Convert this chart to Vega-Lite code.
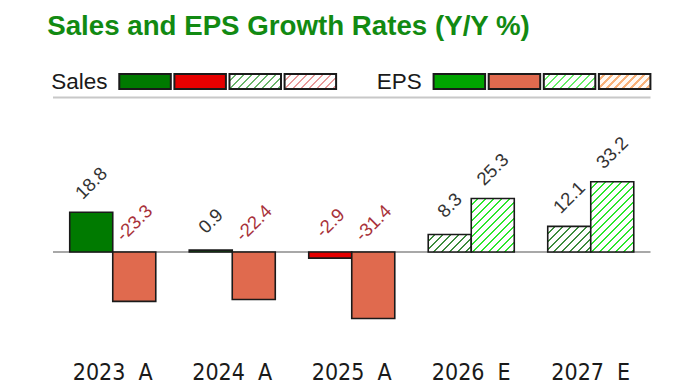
{
  "$schema": "https://vega.github.io/schema/vega-lite/v6.json",
  "padding": {"left": 47, "top": 12, "right": 0, "bottom": 0},
  "background": "white",
  "title": {"text": "Sales and EPS Growth Rates (Y/Y %)", "anchor": "start", "dx": -4, "font": "Liberation Sans", "fontSize": 27.7, "fontWeight": "bold", "color": "#128a12", "offset": 30},
  "config": {"view": {"stroke": null}},
  "resolve": {"scale": {"xOffset": "independent", "x": "independent", "y": "independent"}},
  "bounds": "flush",
  "spacing": 8.5,
  "vconcat": [
    {
      "width": 628.6,
      "height": 15,
      "data": {"values": [
        {"series": "Sales", "kind": "pos"}, {"series": "Sales", "kind": "neg"}, {"series": "Sales", "kind": "estpos"}, {"series": "Sales", "kind": "estneg"},
        {"series": "EPS", "kind": "pos"}, {"series": "EPS", "kind": "neg"}, {"series": "EPS", "kind": "estpos"}, {"series": "EPS", "kind": "estneg"}
      ]},
      "layer": [
        {
          "transform": [{"filter": "datum.series == 'EPS' && datum.kind == 'estneg'"}],
          "mark": {"type": "bar", "stroke": "#1a1a1a", "strokeWidth": 2, "fill": {"gradient": "linear", "x1": 0, "y1": 0, "x2": 1.19, "y2": 0.3466, "stops": [
            {"offset": 0, "color": "#fffaf5"},
            {"offset": 0.075, "color": "#fffaf5"}, {"offset": 0.075, "color": "#f9b27a"}, {"offset": 0.1203, "color": "#f9b27a"}, {"offset": 0.1203, "color": "#fffaf5"},
            {"offset": 0.195, "color": "#fffaf5"}, {"offset": 0.195, "color": "#f9b27a"}, {"offset": 0.2405, "color": "#f9b27a"}, {"offset": 0.2405, "color": "#fffaf5"},
            {"offset": 0.315, "color": "#fffaf5"}, {"offset": 0.315, "color": "#f9b27a"}, {"offset": 0.3608, "color": "#f9b27a"}, {"offset": 0.3608, "color": "#fffaf5"},
            {"offset": 0.436, "color": "#fffaf5"}, {"offset": 0.436, "color": "#f9b27a"}, {"offset": 0.4811, "color": "#f9b27a"}, {"offset": 0.4811, "color": "#fffaf5"},
            {"offset": 0.556, "color": "#fffaf5"}, {"offset": 0.556, "color": "#f9b27a"}, {"offset": 0.6013, "color": "#f9b27a"}, {"offset": 0.6013, "color": "#fffaf5"},
            {"offset": 0.676, "color": "#fffaf5"}, {"offset": 0.676, "color": "#f9b27a"}, {"offset": 0.7216, "color": "#f9b27a"}, {"offset": 0.7216, "color": "#fffaf5"},
            {"offset": 0.796, "color": "#fffaf5"}, {"offset": 0.796, "color": "#f9b27a"}, {"offset": 0.8418, "color": "#f9b27a"}, {"offset": 0.8418, "color": "#fffaf5"},
            {"offset": 0.917, "color": "#fffaf5"}, {"offset": 0.917, "color": "#f9b27a"}, {"offset": 0.9621, "color": "#f9b27a"}, {"offset": 0.9621, "color": "#fffaf5"},
            {"offset": 1, "color": "#fffaf5"}
          ]}},
          "encoding": {
            "x": {"field": "series", "type": "nominal", "scale": {"domain": ["Sales", "EPS"], "paddingInner": 0, "paddingOuter": 0}, "axis": null},
            "xOffset": {"field": "kind", "type": "nominal", "scale": {"domain": ["pos", "neg", "estpos", "estneg"], "paddingInner": 0.065, "paddingOuter": 0.8845, "align": 0.68}}
          }
        },
        {
          "transform": [{"filter": "datum.kind == 'pos' || datum.kind == 'neg'"}],
          "mark": {"type": "bar", "stroke": "#1a1a1a", "strokeWidth": 2},
          "encoding": {
            "x": {"field": "series", "type": "nominal", "axis": null},
            "xOffset": {"field": "kind", "type": "nominal"},
            "fill": {"condition": [
              {"test": "datum.series == 'Sales' && datum.kind == 'pos'", "value": "#007a00"},
              {"test": "datum.series == 'Sales'", "value": "#e60000"},
              {"test": "datum.kind == 'pos'", "value": "#00a400"}
            ], "value": "#e06a4e"}
          }
        },
        {
          "transform": [{"filter": "datum.series == 'Sales' && datum.kind == 'estpos'"}],
          "mark": {"type": "bar", "stroke": "#1a1a1a", "strokeWidth": 2, "fill": {"gradient": "linear", "x1": 0, "y1": 0, "x2": 1.19, "y2": 0.3466, "stops": [
            {"offset": 0, "color": "#ffffff"},
            {"offset": 0.0932, "color": "#ffffff"}, {"offset": 0.0932, "color": "#6ab56a"}, {"offset": 0.1203, "color": "#6ab56a"}, {"offset": 0.1203, "color": "#ffffff"},
            {"offset": 0.2135, "color": "#ffffff"}, {"offset": 0.2135, "color": "#6ab56a"}, {"offset": 0.2405, "color": "#6ab56a"}, {"offset": 0.2405, "color": "#ffffff"},
            {"offset": 0.3337, "color": "#ffffff"}, {"offset": 0.3337, "color": "#6ab56a"}, {"offset": 0.3608, "color": "#6ab56a"}, {"offset": 0.3608, "color": "#ffffff"},
            {"offset": 0.454, "color": "#ffffff"}, {"offset": 0.454, "color": "#6ab56a"}, {"offset": 0.4811, "color": "#6ab56a"}, {"offset": 0.4811, "color": "#ffffff"},
            {"offset": 0.5743, "color": "#ffffff"}, {"offset": 0.5743, "color": "#6ab56a"}, {"offset": 0.6013, "color": "#6ab56a"}, {"offset": 0.6013, "color": "#ffffff"},
            {"offset": 0.6945, "color": "#ffffff"}, {"offset": 0.6945, "color": "#6ab56a"}, {"offset": 0.7216, "color": "#6ab56a"}, {"offset": 0.7216, "color": "#ffffff"},
            {"offset": 0.8148, "color": "#ffffff"}, {"offset": 0.8148, "color": "#6ab56a"}, {"offset": 0.8418, "color": "#6ab56a"}, {"offset": 0.8418, "color": "#ffffff"},
            {"offset": 0.935, "color": "#ffffff"}, {"offset": 0.935, "color": "#6ab56a"}, {"offset": 0.9621, "color": "#6ab56a"}, {"offset": 0.9621, "color": "#ffffff"},
            {"offset": 1, "color": "#ffffff"}
          ]}},
          "encoding": {
            "x": {"field": "series", "type": "nominal", "axis": null},
            "xOffset": {"field": "kind", "type": "nominal"}
          }
        },
        {
          "transform": [{"filter": "datum.series == 'Sales' && datum.kind == 'estneg'"}],
          "mark": {"type": "bar", "stroke": "#1a1a1a", "strokeWidth": 2, "fill": {"gradient": "linear", "x1": 0, "y1": 0, "x2": 1.19, "y2": 0.3466, "stops": [
            {"offset": 0, "color": "#ffffff"},
            {"offset": 0.0932, "color": "#ffffff"}, {"offset": 0.0932, "color": "#e89a9a"}, {"offset": 0.1203, "color": "#e89a9a"}, {"offset": 0.1203, "color": "#ffffff"},
            {"offset": 0.2135, "color": "#ffffff"}, {"offset": 0.2135, "color": "#e89a9a"}, {"offset": 0.2405, "color": "#e89a9a"}, {"offset": 0.2405, "color": "#ffffff"},
            {"offset": 0.3337, "color": "#ffffff"}, {"offset": 0.3337, "color": "#e89a9a"}, {"offset": 0.3608, "color": "#e89a9a"}, {"offset": 0.3608, "color": "#ffffff"},
            {"offset": 0.454, "color": "#ffffff"}, {"offset": 0.454, "color": "#e89a9a"}, {"offset": 0.4811, "color": "#e89a9a"}, {"offset": 0.4811, "color": "#ffffff"},
            {"offset": 0.5743, "color": "#ffffff"}, {"offset": 0.5743, "color": "#e89a9a"}, {"offset": 0.6013, "color": "#e89a9a"}, {"offset": 0.6013, "color": "#ffffff"},
            {"offset": 0.6945, "color": "#ffffff"}, {"offset": 0.6945, "color": "#e89a9a"}, {"offset": 0.7216, "color": "#e89a9a"}, {"offset": 0.7216, "color": "#ffffff"},
            {"offset": 0.8148, "color": "#ffffff"}, {"offset": 0.8148, "color": "#e89a9a"}, {"offset": 0.8418, "color": "#e89a9a"}, {"offset": 0.8418, "color": "#ffffff"},
            {"offset": 0.935, "color": "#ffffff"}, {"offset": 0.935, "color": "#e89a9a"}, {"offset": 0.9621, "color": "#e89a9a"}, {"offset": 0.9621, "color": "#ffffff"},
            {"offset": 1, "color": "#ffffff"}
          ]}},
          "encoding": {
            "x": {"field": "series", "type": "nominal", "axis": null},
            "xOffset": {"field": "kind", "type": "nominal"}
          }
        },
        {
          "transform": [{"filter": "datum.series == 'EPS' && datum.kind == 'estpos'"}],
          "mark": {"type": "bar", "stroke": "#1a1a1a", "strokeWidth": 2, "fill": {"gradient": "linear", "x1": 0, "y1": 0, "x2": 1.19, "y2": 0.3466, "stops": [
            {"offset": 0, "color": "#ffffff"},
            {"offset": 0.0932, "color": "#ffffff"}, {"offset": 0.0932, "color": "#66ee66"}, {"offset": 0.1203, "color": "#66ee66"}, {"offset": 0.1203, "color": "#ffffff"},
            {"offset": 0.2135, "color": "#ffffff"}, {"offset": 0.2135, "color": "#66ee66"}, {"offset": 0.2405, "color": "#66ee66"}, {"offset": 0.2405, "color": "#ffffff"},
            {"offset": 0.3337, "color": "#ffffff"}, {"offset": 0.3337, "color": "#66ee66"}, {"offset": 0.3608, "color": "#66ee66"}, {"offset": 0.3608, "color": "#ffffff"},
            {"offset": 0.454, "color": "#ffffff"}, {"offset": 0.454, "color": "#66ee66"}, {"offset": 0.4811, "color": "#66ee66"}, {"offset": 0.4811, "color": "#ffffff"},
            {"offset": 0.5743, "color": "#ffffff"}, {"offset": 0.5743, "color": "#66ee66"}, {"offset": 0.6013, "color": "#66ee66"}, {"offset": 0.6013, "color": "#ffffff"},
            {"offset": 0.6945, "color": "#ffffff"}, {"offset": 0.6945, "color": "#66ee66"}, {"offset": 0.7216, "color": "#66ee66"}, {"offset": 0.7216, "color": "#ffffff"},
            {"offset": 0.8148, "color": "#ffffff"}, {"offset": 0.8148, "color": "#66ee66"}, {"offset": 0.8418, "color": "#66ee66"}, {"offset": 0.8418, "color": "#ffffff"},
            {"offset": 0.935, "color": "#ffffff"}, {"offset": 0.935, "color": "#66ee66"}, {"offset": 0.9621, "color": "#66ee66"}, {"offset": 0.9621, "color": "#ffffff"},
            {"offset": 1, "color": "#ffffff"}
          ]}},
          "encoding": {
            "x": {"field": "series", "type": "nominal", "axis": null},
            "xOffset": {"field": "kind", "type": "nominal"}
          }
        },
        {
          "data": {"values": [{"series": "Sales"}, {"series": "EPS"}]},
          "mark": {"type": "text", "align": "right", "baseline": "middle", "font": "Liberation Sans", "fontSize": 22.5, "color": "#1a1a1a"},
          "encoding": {
            "x": {"field": "series", "type": "nominal", "bandPosition": 0.1734, "axis": null},
            "text": {"field": "series", "type": "nominal"}
          }
        }
      ]
    },
    {
      "width": 597.5,
      "height": 254,
      "data": {"values": [
        {"period": "2023\u00a0\u00a0A", "year": 2023, "series": "Sales", "value": 18.8, "type": "A"},
        {"period": "2023\u00a0\u00a0A", "year": 2023, "series": "EPS", "value": -23.3, "type": "A"},
        {"period": "2024\u00a0\u00a0A", "year": 2024, "series": "Sales", "value": 0.9, "type": "A"},
        {"period": "2024\u00a0\u00a0A", "year": 2024, "series": "EPS", "value": -22.4, "type": "A"},
        {"period": "2025\u00a0\u00a0A", "year": 2025, "series": "Sales", "value": -2.9, "type": "A"},
        {"period": "2025\u00a0\u00a0A", "year": 2025, "series": "EPS", "value": -31.4, "type": "A"},
        {"period": "2026\u00a0\u00a0E", "year": 2026, "series": "Sales", "value": 8.3, "type": "E"},
        {"period": "2026\u00a0\u00a0E", "year": 2026, "series": "EPS", "value": 25.3, "type": "E"},
        {"period": "2027\u00a0\u00a0E", "year": 2027, "series": "Sales", "value": 12.1, "type": "E"},
        {"period": "2027\u00a0\u00a0E", "year": 2027, "series": "EPS", "value": 33.2, "type": "E"}
      ]},
      "layer": [
        {
          "data": {"values": [{"edge": 73}]},
          "mark": {"type": "rule", "color": "#c8c8c8", "strokeWidth": 2},
          "encoding": {"y": {"field": "edge", "type": "quantitative", "scale": {"domain": [-47, 73], "nice": false, "zero": false}, "axis": null}}
        },
        {
          "data": {"values": [{"edge": 0}]},
          "mark": {"type": "rule", "color": "#a8a8a8", "strokeWidth": 2},
          "encoding": {"y": {"field": "edge", "type": "quantitative", "scale": {"domain": [-47, 73], "nice": false, "zero": false}, "axis": null}}
        },
        {
          "transform": [{"filter": "datum.type == 'A'"}],
          "mark": {"type": "bar", "stroke": "#1a1a1a", "strokeWidth": 1.6},
          "encoding": {
            "x": {"field": "period", "type": "nominal", "scale": {"domain": ["2023\u00a0\u00a0A", "2024\u00a0\u00a0A", "2025\u00a0\u00a0A", "2026\u00a0\u00a0E", "2027\u00a0\u00a0E"], "paddingInner": 0.28, "paddingOuter": 0.14}, "axis": {"title": null, "domain": false, "ticks": false, "grid": false, "labelAngle": 0, "labelFont": "DejaVu Sans Condensed, Liberation Sans, sans-serif", "labelFontSize": 23, "labelColor": "#1a1a1a", "labelPadding": 10}},
            "xOffset": {"field": "series", "type": "nominal", "scale": {"domain": ["Sales", "EPS"], "paddingInner": 0, "paddingOuter": 0}},
            "y": {"field": "value", "type": "quantitative", "scale": {"domain": [-47, 73], "nice": false, "zero": false}, "axis": null},
            "fill": {"condition": [
              {"test": "datum.series == 'Sales' && datum.value < 0", "value": "#e60000"},
              {"test": "datum.series == 'EPS' && datum.value < 0", "value": "#e06a4e"},
              {"test": "datum.series == 'EPS'", "value": "#00a400"}
            ], "value": "#007a00"}
          }
        },
        {
          "transform": [{"filter": "datum.year == 2026 && datum.series == 'Sales'"}],
          "mark": {"type": "bar", "stroke": "#1a1a1a", "strokeWidth": 1.6, "fill": {"gradient": "linear", "x1": 0, "y1": 0, "x2": 1.207, "y2": 0.493, "stops": [
            {"offset": 0, "color": "#ffffff"},
            {"offset": 0.1023, "color": "#ffffff"}, {"offset": 0.1023, "color": "#3d8c3d"}, {"offset": 0.132, "color": "#3d8c3d"}, {"offset": 0.132, "color": "#ffffff"},
            {"offset": 0.2344, "color": "#ffffff"}, {"offset": 0.2344, "color": "#3d8c3d"}, {"offset": 0.2641, "color": "#3d8c3d"}, {"offset": 0.2641, "color": "#ffffff"},
            {"offset": 0.3664, "color": "#ffffff"}, {"offset": 0.3664, "color": "#3d8c3d"}, {"offset": 0.3961, "color": "#3d8c3d"}, {"offset": 0.3961, "color": "#ffffff"},
            {"offset": 0.4984, "color": "#ffffff"}, {"offset": 0.4984, "color": "#3d8c3d"}, {"offset": 0.5281, "color": "#3d8c3d"}, {"offset": 0.5281, "color": "#ffffff"},
            {"offset": 0.6305, "color": "#ffffff"}, {"offset": 0.6305, "color": "#3d8c3d"}, {"offset": 0.6602, "color": "#3d8c3d"}, {"offset": 0.6602, "color": "#ffffff"},
            {"offset": 0.7625, "color": "#ffffff"}, {"offset": 0.7625, "color": "#3d8c3d"}, {"offset": 0.7922, "color": "#3d8c3d"}, {"offset": 0.7922, "color": "#ffffff"},
            {"offset": 0.8945, "color": "#ffffff"}, {"offset": 0.8945, "color": "#3d8c3d"}, {"offset": 0.9242, "color": "#3d8c3d"}, {"offset": 0.9242, "color": "#ffffff"},
            {"offset": 1, "color": "#ffffff"}
          ]}},
          "encoding": {
            "x": {"field": "period", "type": "nominal"},
            "xOffset": {"field": "series", "type": "nominal"},
            "y": {"field": "value", "type": "quantitative", "scale": {"domain": [-47, 73], "nice": false, "zero": false}, "axis": null}
          }
        },
        {
          "transform": [{"filter": "datum.year == 2027 && datum.series == 'Sales'"}],
          "mark": {"type": "bar", "stroke": "#1a1a1a", "strokeWidth": 1.6, "fill": {"gradient": "linear", "x1": 0, "y1": 0, "x2": 1.178, "y2": 0.7012, "stops": [
            {"offset": 0, "color": "#ffffff"},
            {"offset": 0.0903, "color": "#ffffff"}, {"offset": 0.0903, "color": "#3d8c3d"}, {"offset": 0.1166, "color": "#3d8c3d"}, {"offset": 0.1166, "color": "#ffffff"},
            {"offset": 0.2069, "color": "#ffffff"}, {"offset": 0.2069, "color": "#3d8c3d"}, {"offset": 0.2331, "color": "#3d8c3d"}, {"offset": 0.2331, "color": "#ffffff"},
            {"offset": 0.3235, "color": "#ffffff"}, {"offset": 0.3235, "color": "#3d8c3d"}, {"offset": 0.3497, "color": "#3d8c3d"}, {"offset": 0.3497, "color": "#ffffff"},
            {"offset": 0.44, "color": "#ffffff"}, {"offset": 0.44, "color": "#3d8c3d"}, {"offset": 0.4663, "color": "#3d8c3d"}, {"offset": 0.4663, "color": "#ffffff"},
            {"offset": 0.5566, "color": "#ffffff"}, {"offset": 0.5566, "color": "#3d8c3d"}, {"offset": 0.5828, "color": "#3d8c3d"}, {"offset": 0.5828, "color": "#ffffff"},
            {"offset": 0.6732, "color": "#ffffff"}, {"offset": 0.6732, "color": "#3d8c3d"}, {"offset": 0.6994, "color": "#3d8c3d"}, {"offset": 0.6994, "color": "#ffffff"},
            {"offset": 0.7897, "color": "#ffffff"}, {"offset": 0.7897, "color": "#3d8c3d"}, {"offset": 0.816, "color": "#3d8c3d"}, {"offset": 0.816, "color": "#ffffff"},
            {"offset": 0.9063, "color": "#ffffff"}, {"offset": 0.9063, "color": "#3d8c3d"}, {"offset": 0.9325, "color": "#3d8c3d"}, {"offset": 0.9325, "color": "#ffffff"},
            {"offset": 1, "color": "#ffffff"}
          ]}},
          "encoding": {
            "x": {"field": "period", "type": "nominal"},
            "xOffset": {"field": "series", "type": "nominal"},
            "y": {"field": "value", "type": "quantitative", "scale": {"domain": [-47, 73], "nice": false, "zero": false}, "axis": null}
          }
        },
        {
          "transform": [{"filter": "datum.year == 2026 && datum.series == 'EPS'"}],
          "mark": {"type": "bar", "stroke": "#1a1a1a", "strokeWidth": 1.6, "fill": {"gradient": "linear", "x1": 0, "y1": 0, "x2": 0.8805, "y2": 1.096, "stops": [
            {"offset": 0, "color": "#ffffff"},
            {"offset": 0.0642, "color": "#ffffff"}, {"offset": 0.0642, "color": "#2ee62e"}, {"offset": 0.0828, "color": "#2ee62e"}, {"offset": 0.0828, "color": "#ffffff"},
            {"offset": 0.147, "color": "#ffffff"}, {"offset": 0.147, "color": "#2ee62e"}, {"offset": 0.1657, "color": "#2ee62e"}, {"offset": 0.1657, "color": "#ffffff"},
            {"offset": 0.2299, "color": "#ffffff"}, {"offset": 0.2299, "color": "#2ee62e"}, {"offset": 0.2485, "color": "#2ee62e"}, {"offset": 0.2485, "color": "#ffffff"},
            {"offset": 0.3127, "color": "#ffffff"}, {"offset": 0.3127, "color": "#2ee62e"}, {"offset": 0.3314, "color": "#2ee62e"}, {"offset": 0.3314, "color": "#ffffff"},
            {"offset": 0.3956, "color": "#ffffff"}, {"offset": 0.3956, "color": "#2ee62e"}, {"offset": 0.4142, "color": "#2ee62e"}, {"offset": 0.4142, "color": "#ffffff"},
            {"offset": 0.4784, "color": "#ffffff"}, {"offset": 0.4784, "color": "#2ee62e"}, {"offset": 0.497, "color": "#2ee62e"}, {"offset": 0.497, "color": "#ffffff"},
            {"offset": 0.5613, "color": "#ffffff"}, {"offset": 0.5613, "color": "#2ee62e"}, {"offset": 0.5799, "color": "#2ee62e"}, {"offset": 0.5799, "color": "#ffffff"},
            {"offset": 0.6441, "color": "#ffffff"}, {"offset": 0.6441, "color": "#2ee62e"}, {"offset": 0.6627, "color": "#2ee62e"}, {"offset": 0.6627, "color": "#ffffff"},
            {"offset": 0.7269, "color": "#ffffff"}, {"offset": 0.7269, "color": "#2ee62e"}, {"offset": 0.7456, "color": "#2ee62e"}, {"offset": 0.7456, "color": "#ffffff"},
            {"offset": 0.8098, "color": "#ffffff"}, {"offset": 0.8098, "color": "#2ee62e"}, {"offset": 0.8284, "color": "#2ee62e"}, {"offset": 0.8284, "color": "#ffffff"},
            {"offset": 0.8926, "color": "#ffffff"}, {"offset": 0.8926, "color": "#2ee62e"}, {"offset": 0.9113, "color": "#2ee62e"}, {"offset": 0.9113, "color": "#ffffff"},
            {"offset": 0.9755, "color": "#ffffff"}, {"offset": 0.9755, "color": "#2ee62e"}, {"offset": 0.9941, "color": "#2ee62e"}, {"offset": 0.9941, "color": "#ffffff"},
            {"offset": 1, "color": "#ffffff"}
          ]}},
          "encoding": {
            "x": {"field": "period", "type": "nominal"},
            "xOffset": {"field": "series", "type": "nominal"},
            "y": {"field": "value", "type": "quantitative", "scale": {"domain": [-47, 73], "nice": false, "zero": false}, "axis": null}
          }
        },
        {
          "transform": [{"filter": "datum.year == 2027 && datum.series == 'EPS'"}],
          "mark": {"type": "bar", "stroke": "#1a1a1a", "strokeWidth": 1.6, "fill": {"gradient": "linear", "x1": 0, "y1": 0, "x2": 0.7179, "y2": 1.1727, "stops": [
            {"offset": 0, "color": "#ffffff"},
            {"offset": 0.0547, "color": "#ffffff"}, {"offset": 0.0547, "color": "#2ee62e"}, {"offset": 0.0706, "color": "#2ee62e"}, {"offset": 0.0706, "color": "#ffffff"},
            {"offset": 0.1253, "color": "#ffffff"}, {"offset": 0.1253, "color": "#2ee62e"}, {"offset": 0.1412, "color": "#2ee62e"}, {"offset": 0.1412, "color": "#ffffff"},
            {"offset": 0.196, "color": "#ffffff"}, {"offset": 0.196, "color": "#2ee62e"}, {"offset": 0.2118, "color": "#2ee62e"}, {"offset": 0.2118, "color": "#ffffff"},
            {"offset": 0.2666, "color": "#ffffff"}, {"offset": 0.2666, "color": "#2ee62e"}, {"offset": 0.2825, "color": "#2ee62e"}, {"offset": 0.2825, "color": "#ffffff"},
            {"offset": 0.3372, "color": "#ffffff"}, {"offset": 0.3372, "color": "#2ee62e"}, {"offset": 0.3531, "color": "#2ee62e"}, {"offset": 0.3531, "color": "#ffffff"},
            {"offset": 0.4078, "color": "#ffffff"}, {"offset": 0.4078, "color": "#2ee62e"}, {"offset": 0.4237, "color": "#2ee62e"}, {"offset": 0.4237, "color": "#ffffff"},
            {"offset": 0.4784, "color": "#ffffff"}, {"offset": 0.4784, "color": "#2ee62e"}, {"offset": 0.4943, "color": "#2ee62e"}, {"offset": 0.4943, "color": "#ffffff"},
            {"offset": 0.549, "color": "#ffffff"}, {"offset": 0.549, "color": "#2ee62e"}, {"offset": 0.5649, "color": "#2ee62e"}, {"offset": 0.5649, "color": "#ffffff"},
            {"offset": 0.6197, "color": "#ffffff"}, {"offset": 0.6197, "color": "#2ee62e"}, {"offset": 0.6355, "color": "#2ee62e"}, {"offset": 0.6355, "color": "#ffffff"},
            {"offset": 0.6903, "color": "#ffffff"}, {"offset": 0.6903, "color": "#2ee62e"}, {"offset": 0.7062, "color": "#2ee62e"}, {"offset": 0.7062, "color": "#ffffff"},
            {"offset": 0.7609, "color": "#ffffff"}, {"offset": 0.7609, "color": "#2ee62e"}, {"offset": 0.7768, "color": "#2ee62e"}, {"offset": 0.7768, "color": "#ffffff"},
            {"offset": 0.8315, "color": "#ffffff"}, {"offset": 0.8315, "color": "#2ee62e"}, {"offset": 0.8474, "color": "#2ee62e"}, {"offset": 0.8474, "color": "#ffffff"},
            {"offset": 0.9021, "color": "#ffffff"}, {"offset": 0.9021, "color": "#2ee62e"}, {"offset": 0.918, "color": "#2ee62e"}, {"offset": 0.918, "color": "#ffffff"},
            {"offset": 0.9727, "color": "#ffffff"}, {"offset": 0.9727, "color": "#2ee62e"}, {"offset": 0.9886, "color": "#2ee62e"}, {"offset": 0.9886, "color": "#ffffff"},
            {"offset": 1, "color": "#ffffff"}
          ]}},
          "encoding": {
            "x": {"field": "period", "type": "nominal"},
            "xOffset": {"field": "series", "type": "nominal"},
            "y": {"field": "value", "type": "quantitative", "scale": {"domain": [-47, 73], "nice": false, "zero": false}, "axis": null}
          }
        },
        {
          "transform": [{"filter": "datum.value >= 0"}],
          "mark": {"type": "text", "angle": 315, "align": "center", "baseline": "middle", "radius": 29, "font": "Liberation Sans", "fontSize": 18.5, "color": "#333333"},
          "encoding": {
            "x": {"field": "period", "type": "nominal"},
            "xOffset": {"field": "series", "type": "nominal"},
            "y": {"field": "value", "type": "quantitative", "scale": {"domain": [-47, 73], "nice": false, "zero": false}, "axis": null},
            "text": {"field": "value", "type": "nominal"}
          }
        },
        {
          "transform": [{"filter": "datum.value < 0"}],
          "mark": {"type": "text", "angle": 315, "align": "center", "baseline": "middle", "radius": 29, "font": "Liberation Sans", "fontSize": 18.5, "color": "#a8323a"},
          "encoding": {
            "x": {"field": "period", "type": "nominal"},
            "xOffset": {"field": "series", "type": "nominal"},
            "y": {"datum": 0, "type": "quantitative", "scale": {"domain": [-47, 73], "nice": false, "zero": false}, "axis": null},
            "text": {"field": "value", "type": "nominal"}
          }
        }
      ]
    }
  ]
}
